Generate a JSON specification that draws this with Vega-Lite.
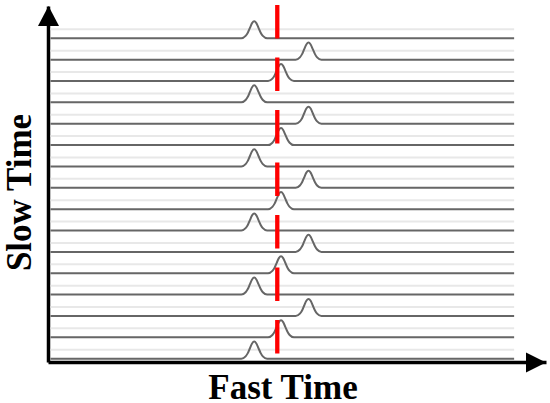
{
"$schema": "https://vega.github.io/schema/vega-lite/v6.json",
"width": 498, "height": 356,
"autosize": {"type": "none"},
"padding": {"left": 48, "top": 6, "right": 4, "bottom": 41},
"background": "white",
"config": {"view": {"stroke": null}},
"datasets": {
"faint": [
{"x":0.5,"x2":93.6,"y":0.42},{"x":0.5,"x2":93.6,"y":1.42},{"x":0.5,"x2":93.6,"y":2.42},{"x":0.5,"x2":93.6,"y":3.42},
{"x":0.5,"x2":93.6,"y":4.42},{"x":0.5,"x2":93.6,"y":5.42},{"x":0.5,"x2":93.6,"y":6.42},{"x":0.5,"x2":93.6,"y":7.42},
{"x":0.5,"x2":93.6,"y":8.42},{"x":0.5,"x2":93.6,"y":9.42},{"x":0.5,"x2":93.6,"y":10.42},{"x":0.5,"x2":93.6,"y":11.42},
{"x":0.5,"x2":93.6,"y":12.42},{"x":0.5,"x2":93.6,"y":13.42},{"x":0.5,"x2":93.6,"y":14.42},{"x":0.5,"x2":93.6,"y":15.42}
],
"marker": [{"x":46.04,"y":16.558,"y2":0.2055}],
"traces": [
{"k":0,"x":0.5,"y":0},{"k":0,"x":38.82,"y":0},{"k":0,"x":39.68,"y":0.11},{"k":0,"x":40.12,"y":0.26},{"k":0,"x":40.55,"y":0.49},{"k":0,"x":40.98,"y":0.71},{"k":0,"x":41.41,"y":0.8},{"k":0,"x":41.84,"y":0.71},{"k":0,"x":42.27,"y":0.49},{"k":0,"x":42.71,"y":0.26},{"k":0,"x":43.14,"y":0.11},{"k":0,"x":44.0,"y":0},{"k":0,"x":93.6,"y":0},
{"k":1,"x":0.5,"y":1},{"k":1,"x":44.2,"y":1},{"k":1,"x":45.06,"y":1.11},{"k":1,"x":45.5,"y":1.26},{"k":1,"x":45.93,"y":1.49},{"k":1,"x":46.36,"y":1.71},{"k":1,"x":46.79,"y":1.8},{"k":1,"x":47.22,"y":1.71},{"k":1,"x":47.65,"y":1.49},{"k":1,"x":48.09,"y":1.26},{"k":1,"x":48.52,"y":1.11},{"k":1,"x":49.38,"y":1},{"k":1,"x":93.6,"y":1},
{"k":2,"x":0.5,"y":2},{"k":2,"x":49.72,"y":2},{"k":2,"x":50.58,"y":2.11},{"k":2,"x":51.02,"y":2.26},{"k":2,"x":51.45,"y":2.49},{"k":2,"x":51.88,"y":2.71},{"k":2,"x":52.31,"y":2.8},{"k":2,"x":52.74,"y":2.71},{"k":2,"x":53.17,"y":2.49},{"k":2,"x":53.61,"y":2.26},{"k":2,"x":54.04,"y":2.11},{"k":2,"x":54.9,"y":2},{"k":2,"x":93.6,"y":2},
{"k":3,"x":0.5,"y":3},{"k":3,"x":38.82,"y":3},{"k":3,"x":39.68,"y":3.11},{"k":3,"x":40.12,"y":3.26},{"k":3,"x":40.55,"y":3.49},{"k":3,"x":40.98,"y":3.71},{"k":3,"x":41.41,"y":3.8},{"k":3,"x":41.84,"y":3.71},{"k":3,"x":42.27,"y":3.49},{"k":3,"x":42.71,"y":3.26},{"k":3,"x":43.14,"y":3.11},{"k":3,"x":44.0,"y":3},{"k":3,"x":93.6,"y":3},
{"k":4,"x":0.5,"y":4},{"k":4,"x":44.2,"y":4},{"k":4,"x":45.06,"y":4.11},{"k":4,"x":45.5,"y":4.26},{"k":4,"x":45.93,"y":4.49},{"k":4,"x":46.36,"y":4.71},{"k":4,"x":46.79,"y":4.8},{"k":4,"x":47.22,"y":4.71},{"k":4,"x":47.65,"y":4.49},{"k":4,"x":48.09,"y":4.26},{"k":4,"x":48.52,"y":4.11},{"k":4,"x":49.38,"y":4},{"k":4,"x":93.6,"y":4},
{"k":5,"x":0.5,"y":5},{"k":5,"x":49.72,"y":5},{"k":5,"x":50.58,"y":5.11},{"k":5,"x":51.02,"y":5.26},{"k":5,"x":51.45,"y":5.49},{"k":5,"x":51.88,"y":5.71},{"k":5,"x":52.31,"y":5.8},{"k":5,"x":52.74,"y":5.71},{"k":5,"x":53.17,"y":5.49},{"k":5,"x":53.61,"y":5.26},{"k":5,"x":54.04,"y":5.11},{"k":5,"x":54.9,"y":5},{"k":5,"x":93.6,"y":5},
{"k":6,"x":0.5,"y":6},{"k":6,"x":38.82,"y":6},{"k":6,"x":39.68,"y":6.11},{"k":6,"x":40.12,"y":6.26},{"k":6,"x":40.55,"y":6.49},{"k":6,"x":40.98,"y":6.71},{"k":6,"x":41.41,"y":6.8},{"k":6,"x":41.84,"y":6.71},{"k":6,"x":42.27,"y":6.49},{"k":6,"x":42.71,"y":6.26},{"k":6,"x":43.14,"y":6.11},{"k":6,"x":44.0,"y":6},{"k":6,"x":93.6,"y":6},
{"k":7,"x":0.5,"y":7},{"k":7,"x":44.2,"y":7},{"k":7,"x":45.06,"y":7.11},{"k":7,"x":45.5,"y":7.26},{"k":7,"x":45.93,"y":7.49},{"k":7,"x":46.36,"y":7.71},{"k":7,"x":46.79,"y":7.8},{"k":7,"x":47.22,"y":7.71},{"k":7,"x":47.65,"y":7.49},{"k":7,"x":48.09,"y":7.26},{"k":7,"x":48.52,"y":7.11},{"k":7,"x":49.38,"y":7},{"k":7,"x":93.6,"y":7},
{"k":8,"x":0.5,"y":8},{"k":8,"x":49.72,"y":8},{"k":8,"x":50.58,"y":8.11},{"k":8,"x":51.02,"y":8.26},{"k":8,"x":51.45,"y":8.49},{"k":8,"x":51.88,"y":8.71},{"k":8,"x":52.31,"y":8.8},{"k":8,"x":52.74,"y":8.71},{"k":8,"x":53.17,"y":8.49},{"k":8,"x":53.61,"y":8.26},{"k":8,"x":54.04,"y":8.11},{"k":8,"x":54.9,"y":8},{"k":8,"x":93.6,"y":8},
{"k":9,"x":0.5,"y":9},{"k":9,"x":38.82,"y":9},{"k":9,"x":39.68,"y":9.11},{"k":9,"x":40.12,"y":9.26},{"k":9,"x":40.55,"y":9.49},{"k":9,"x":40.98,"y":9.71},{"k":9,"x":41.41,"y":9.8},{"k":9,"x":41.84,"y":9.71},{"k":9,"x":42.27,"y":9.49},{"k":9,"x":42.71,"y":9.26},{"k":9,"x":43.14,"y":9.11},{"k":9,"x":44.0,"y":9},{"k":9,"x":93.6,"y":9},
{"k":10,"x":0.5,"y":10},{"k":10,"x":44.2,"y":10},{"k":10,"x":45.06,"y":10.11},{"k":10,"x":45.5,"y":10.26},{"k":10,"x":45.93,"y":10.49},{"k":10,"x":46.36,"y":10.71},{"k":10,"x":46.79,"y":10.8},{"k":10,"x":47.22,"y":10.71},{"k":10,"x":47.65,"y":10.49},{"k":10,"x":48.09,"y":10.26},{"k":10,"x":48.52,"y":10.11},{"k":10,"x":49.38,"y":10},{"k":10,"x":93.6,"y":10},
{"k":11,"x":0.5,"y":11},{"k":11,"x":49.72,"y":11},{"k":11,"x":50.58,"y":11.11},{"k":11,"x":51.02,"y":11.26},{"k":11,"x":51.45,"y":11.49},{"k":11,"x":51.88,"y":11.71},{"k":11,"x":52.31,"y":11.8},{"k":11,"x":52.74,"y":11.71},{"k":11,"x":53.17,"y":11.49},{"k":11,"x":53.61,"y":11.26},{"k":11,"x":54.04,"y":11.11},{"k":11,"x":54.9,"y":11},{"k":11,"x":93.6,"y":11},
{"k":12,"x":0.5,"y":12},{"k":12,"x":38.82,"y":12},{"k":12,"x":39.68,"y":12.11},{"k":12,"x":40.12,"y":12.26},{"k":12,"x":40.55,"y":12.49},{"k":12,"x":40.98,"y":12.71},{"k":12,"x":41.41,"y":12.8},{"k":12,"x":41.84,"y":12.71},{"k":12,"x":42.27,"y":12.49},{"k":12,"x":42.71,"y":12.26},{"k":12,"x":43.14,"y":12.11},{"k":12,"x":44.0,"y":12},{"k":12,"x":93.6,"y":12},
{"k":13,"x":0.5,"y":13},{"k":13,"x":44.2,"y":13},{"k":13,"x":45.06,"y":13.11},{"k":13,"x":45.5,"y":13.26},{"k":13,"x":45.93,"y":13.49},{"k":13,"x":46.36,"y":13.71},{"k":13,"x":46.79,"y":13.8},{"k":13,"x":47.22,"y":13.71},{"k":13,"x":47.65,"y":13.49},{"k":13,"x":48.09,"y":13.26},{"k":13,"x":48.52,"y":13.11},{"k":13,"x":49.38,"y":13},{"k":13,"x":93.6,"y":13},
{"k":14,"x":0.5,"y":14},{"k":14,"x":49.72,"y":14},{"k":14,"x":50.58,"y":14.11},{"k":14,"x":51.02,"y":14.26},{"k":14,"x":51.45,"y":14.49},{"k":14,"x":51.88,"y":14.71},{"k":14,"x":52.31,"y":14.8},{"k":14,"x":52.74,"y":14.71},{"k":14,"x":53.17,"y":14.49},{"k":14,"x":53.61,"y":14.26},{"k":14,"x":54.04,"y":14.11},{"k":14,"x":54.9,"y":14},{"k":14,"x":93.6,"y":14},
{"k":15,"x":0.5,"y":15},{"k":15,"x":38.82,"y":15},{"k":15,"x":39.68,"y":15.11},{"k":15,"x":40.12,"y":15.26},{"k":15,"x":40.55,"y":15.49},{"k":15,"x":40.98,"y":15.71},{"k":15,"x":41.41,"y":15.8},{"k":15,"x":41.84,"y":15.71},{"k":15,"x":42.27,"y":15.49},{"k":15,"x":42.71,"y":15.26},{"k":15,"x":43.14,"y":15.11},{"k":15,"x":44.0,"y":15},{"k":15,"x":93.6,"y":15}
]
},
"encoding": {
"x": {"field": "x", "type": "quantitative",
"scale": {"domain": [0, 100], "nice": false, "zero": false},
"axis": {"domain": true, "domainColor": "black", "domainWidth": 3.5, "ticks": false, "labels": false, "grid": false,
"title": "Fast Time", "titleFont": "Liberation Serif", "titleFontSize": 35, "titleFontWeight": "bold", "titleColor": "black",
"titleX": 234.5, "titleY": 36.3, "titleBaseline": "alphabetic", "titleAlign": "center", "titleAngle": 0}},
"y": {"field": "y", "type": "quantitative",
"scale": {"domain": [-0.155, 16.512], "nice": false, "zero": false},
"axis": {"domain": true, "domainColor": "black", "domainWidth": 3.5, "ticks": false, "labels": false, "grid": false,
"title": "Slow Time", "titleFont": "Liberation Serif", "titleFontSize": 35, "titleFontWeight": "bold", "titleColor": "black",
"titleX": -17.3, "titleY": 186, "titleBaseline": "alphabetic", "titleAlign": "center", "titleAngle": -90}}
},
"layer": [
{"data": {"name": "faint"}, "mark": {"type": "rule", "color": "#e8e8e8", "strokeWidth": 2}, "encoding": {"x2": {"field": "x2"}}},
{"data": {"name": "traces"}, "mark": {"type": "line", "color": "#666666", "strokeWidth": 2, "interpolate": "monotone"}, "encoding": {"detail": {"field": "k", "type": "nominal"}}},
{"data": {"name": "marker"}, "mark": {"type": "rule", "color": "#ff0000", "strokeWidth": 4.3, "strokeDash": [33.5, 19]}, "encoding": {"y2": {"field": "y2"}}},
{"data": {"values": [{"x": 0.1, "y": 16.512}]}, "mark": {"type": "point", "shape": "M0,0L-0.525,1L0.525,1Z", "size": 1600, "filled": true, "color": "black", "opacity": 1, "strokeWidth": 0}, "encoding": {}},
{"data": {"values": [{"x": 100, "y": -0.178}]}, "mark": {"type": "point", "shape": "M0,0L-1,-0.5L-1,0.5Z", "size": 1600, "filled": true, "color": "black", "opacity": 1, "strokeWidth": 0}, "encoding": {}}
]
}
